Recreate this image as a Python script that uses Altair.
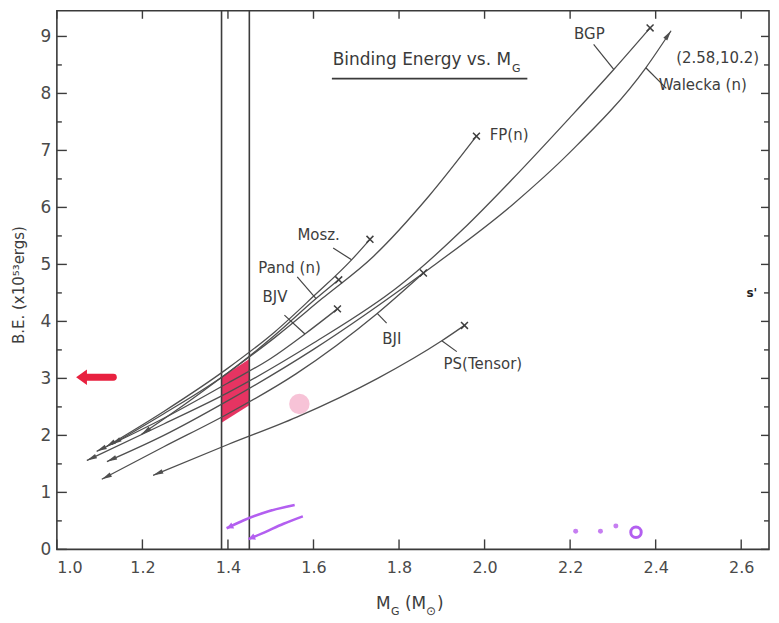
import altair as alt
import pandas as pd
import numpy as np

# ---------------- data ----------------
curve_names = ["Mosz.", "Pand(n)", "FP(n)", "BJV", "BGP", "Walecka(n)", "BJI", "PS(Tensor)"]
mosz_x = [1.115, 1.25, 1.40, 1.51, 1.60, 1.689, 1.732]
mosz_y = [1.80, 2.42, 3.18, 3.82, 4.44, 5.08, 5.44]
pand_x = [1.128, 1.25, 1.40, 1.51, 1.606, 1.659]
pand_y = [1.84, 2.38, 3.10, 3.76, 4.40, 4.73]
fp_x = [1.198, 1.30, 1.40, 1.51, 1.62, 1.74, 1.87, 1.981]
fp_y = [2.02, 2.55, 3.10, 3.72, 4.40, 5.14, 6.20, 7.25]
bjv_x = [1.093, 1.25, 1.40, 1.50, 1.580, 1.656]
bjv_y = [1.72, 2.30, 2.92, 3.35, 3.78, 4.22]
bgp_x = [1.070, 1.25, 1.40, 1.60, 1.80, 1.95, 2.063, 2.20, 2.302, 2.387]
bgp_y = [1.56, 2.20, 2.75, 3.62, 4.62, 5.62, 6.48, 7.58, 8.42, 9.15]
walecka_x = [1.117, 1.25, 1.40, 1.60, 1.857, 2.064, 2.20, 2.377, 2.436]
walecka_y = [1.54, 2.00, 2.61, 3.51, 4.85, 6.04, 6.97, 8.45, 9.10]
bji_x = [1.105, 1.25, 1.40, 1.559, 1.749, 1.857]
bji_y = [1.23, 1.80, 2.38, 3.08, 4.14, 4.85]
ps_x = [1.225, 1.40, 1.561, 1.75, 1.90, 1.953]
ps_y = [1.30, 1.84, 2.32, 3.00, 3.66, 3.93]
curve_xs = [mosz_x, pand_x, fp_x, bjv_x, bgp_x, walecka_x, bji_x, ps_x]
curve_ys = [mosz_y, pand_y, fp_y, bjv_y, bgp_y, walecka_y, bji_y, ps_y]
curve_end = ["x", "x", "x", "x", "x", "arrow", "x", "x"]

# curve labels and their pointer lines
label_text = ["BGP", "(2.58,10.2)", "Walecka (n)", "FP(n)", "Mosz.", "Pand (n)", "BJ\u2164", "BJ\u2160", "PS(Tensor)"]
label_x = [2.245, 2.545, 2.510, 2.012, 1.612, 1.544, 1.510, 1.783, 1.996]
label_y = [9.05, 8.62, 8.15, 7.27, 5.52, 4.93, 4.42, 3.69, 3.25]
label_align = ["center", "center", "center", "left", "center", "center", "center", "center", "center"]
ptr_x1 = [2.255, 2.425, 1.646, 1.562, 1.532, 1.771, 1.935]
ptr_y1 = [8.86, 8.09, 5.29, 4.78, 4.11, 3.97, 3.47]
ptr_x2 = [2.302, 2.377, 1.689, 1.606, 1.580, 1.749, 1.900]
ptr_y2 = [8.42, 8.45, 5.08, 4.40, 3.78, 4.14, 3.66]

# vertical band lines and highlighted region
band_x = [1.385, 1.45]
red_x = [1.385, 1.45]
red_lo = [2.22, 2.53]
red_hi = [3.02, 3.34]

# title
title_main = "Binding Energy vs. M"
title_sub = "G"

# axis ticks
x_ticks = [1.0, 1.2, 1.4, 1.6, 1.8, 2.0, 2.2, 2.4, 2.6]
y_ticks = [0, 1, 2, 3, 4, 5, 6, 7, 8, 9]
y_minor = [0.5, 1.5, 2.5, 3.5, 4.5, 5.5, 6.5, 7.5, 8.5]

# hand annotations on the scan
red_arrow_x = [1.045, 1.132]
red_arrow_y = [3.02, 3.02]
pink_x = [1.567]
pink_y = [2.55]
purple1_x = [1.556, 1.495, 1.437, 1.397]
purple1_y = [0.78, 0.67, 0.51, 0.37]
purple2_x = [1.575, 1.53, 1.48, 1.448]
purple2_y = [0.58, 0.45, 0.28, 0.18]
purple_dot_x = [2.213, 2.271, 2.307]
purple_dot_y = [0.32, 0.32, 0.41]
purple_ring_x = [2.354]
purple_ring_y = [0.30]

# ---------------- layout ----------------
W, H = 714, 540
XDOM = [1.0, 2.665]
YDOM = [0.0, 9.45]
PX = W / (XDOM[1] - XDOM[0])
PY = H / (YDOM[1] - YDOM[0])
FONT = "DejaVu Sans"
INK = "#4a4a4a"

xs = alt.Scale(domain=XDOM, nice=False, zero=False)
ys = alt.Scale(domain=YDOM, nice=False, zero=False)
x_axis = alt.Axis(values=x_ticks, format=".1f", title=None, labelPadding=10,
                  labelFontSize=16, labelColor=INK, labelFont=FONT)
y_axis = alt.Axis(values=y_ticks, format="d", title=None, labelPadding=6,
                  labelFontSize=17, labelColor=INK, labelFont=FONT)


def X(f="x"):
    return alt.X(f"{f}:Q", scale=xs, axis=x_axis)


def Y(f="y"):
    return alt.Y(f"{f}:Q", scale=ys, axis=y_axis)


def head_angle(xa, ya, xb, yb):
    dx = (xa - xb) * PX
    dy = -(ya - yb) * PY
    return float(np.degrees(np.arctan2(dx, -dy)) % 360)


rows, starts, ends_x, heads_end = [], [], [], []
for name, cx, cy, e in zip(curve_names, curve_xs, curve_ys, curve_end):
    for i, (a, b) in enumerate(zip(cx, cy)):
        rows.append({"model": name, "x": a, "y": b, "o": i})
    starts.append({"x": cx[0], "y": cy[0], "ang": head_angle(cx[0], cy[0], cx[1], cy[1])})
    if e == "x":
        ends_x.append({"x": cx[-1], "y": cy[-1]})
    else:
        heads_end.append({"x": cx[-1], "y": cy[-1], "ang": head_angle(cx[-1], cy[-1], cx[-2], cy[-2])})

curves_df = pd.DataFrame(rows)
ARROW = "M0,0L0.42,1.8L-0.42,1.8Z"
CROSS = "M-1,-1L1,1M-1,1L1,-1"
LINE_C = "#4f4f4f"

red_df = pd.DataFrame({"x": red_x, "y": red_lo, "y2": red_hi})
red_area = alt.Chart(red_df).mark_area(color="#e3184c", opacity=0.88).encode(
    x=X(), y=Y(), y2="y2:Q")
pink = alt.Chart(pd.DataFrame({"x": pink_x, "y": pink_y})).mark_point(
    filled=True, color="#f6bcd3", size=420, opacity=0.9).encode(x=X(), y=Y())

band = alt.Chart(pd.DataFrame({"x": band_x})).mark_rule(
    color="#3c3c3c", strokeWidth=1.6).encode(x=X())

lines = alt.Chart(curves_df).mark_line(
    color=LINE_C, strokeWidth=1.3, interpolate="monotone").encode(
    x=X(), y=Y(), detail="model:N", order="o:Q")

start_heads = alt.Chart(pd.DataFrame(starts)).mark_point(
    shape=ARROW, filled=True, color=LINE_C, size=130, opacity=1).encode(
    x=X(), y=Y(), angle=alt.Angle("ang:Q", scale=None))
end_heads = alt.Chart(pd.DataFrame(heads_end)).mark_point(
    shape=ARROW, filled=True, color=LINE_C, size=130, opacity=1).encode(
    x=X(), y=Y(), angle=alt.Angle("ang:Q", scale=None))
crosses = alt.Chart(pd.DataFrame(ends_x)).mark_point(
    shape=CROSS, filled=False, color="#3f3f3f", size=48, strokeWidth=1.5, opacity=1).encode(
    x=X(), y=Y())

labels_df = pd.DataFrame({"x": label_x, "y": label_y, "t": label_text, "al": label_align})
lab_layers = []
for al in ["left", "center"]:
    lab_layers.append(alt.Chart(labels_df[labels_df["al"] == al]).mark_text(
        align=al, baseline="middle", font=FONT, fontSize=15, color="#3d3d3d").encode(
        x=X(), y=Y(), text="t:N"))

ptr_df = pd.DataFrame({"x": ptr_x1, "y": ptr_y1, "x2": ptr_x2, "y2": ptr_y2})
pointers = alt.Chart(ptr_df).mark_rule(color="#444444", strokeWidth=1.2).encode(
    x=X(), y=Y(), x2="x2:Q", y2="y2:Q")

# title with underline
title_df = pd.DataFrame({"x": [1.645], "y": [8.50], "t": [title_main]})
title_t = alt.Chart(title_df).mark_text(
    align="left", baseline="alphabetic", font=FONT, fontSize=17, color="#3a3a3a").encode(
    x=X(), y=Y(), text="t:N")
title_s = alt.Chart(pd.DataFrame({"x": [2.064], "y": [8.37], "t": [title_sub]})).mark_text(
    align="left", baseline="alphabetic", font=FONT, fontSize=11, color="#3a3a3a").encode(
    x=X(), y=Y(), text="t:N")
underline = alt.Chart(pd.DataFrame({"x": [1.643], "x2": [2.100], "y": [8.26]})).mark_rule(
    color="#3a3a3a", strokeWidth=1.6).encode(x=X(), x2="x2:Q", y=Y())

# red hand-drawn arrow
red_line = alt.Chart(pd.DataFrame({"x": [red_arrow_x[0] + 0.02], "x2": [red_arrow_x[1]],
                                   "y": [red_arrow_y[0]]})).mark_rule(
    color="#e8213f", strokeWidth=7, strokeCap="round").encode(x=X(), x2="x2:Q", y=Y())
red_head = alt.Chart(pd.DataFrame({"x": [red_arrow_x[0]], "y": [red_arrow_y[0]]})).mark_point(
    shape="M0,0L1,1.4L-1,1.4Z", filled=True, color="#e8213f", size=240, angle=270, opacity=1).encode(
    x=X(), y=Y())

# purple scribbles
p_rows = [{"g": 1, "x": a, "y": b, "o": i} for i, (a, b) in enumerate(zip(purple1_x, purple1_y))]
p_rows += [{"g": 2, "x": a, "y": b, "o": i} for i, (a, b) in enumerate(zip(purple2_x, purple2_y))]
purple_lines = alt.Chart(pd.DataFrame(p_rows)).mark_line(
    color="#b35ff0", strokeWidth=2.6, interpolate="monotone").encode(
    x=X(), y=Y(), detail="g:N", order="o:Q")
ph = [{"x": purple1_x[-1], "y": purple1_y[-1],
       "ang": head_angle(purple1_x[-1], purple1_y[-1], purple1_x[-2], purple1_y[-2])},
      {"x": purple2_x[-1], "y": purple2_y[-1],
       "ang": head_angle(purple2_x[-1], purple2_y[-1], purple2_x[-2], purple2_y[-2])}]
purple_heads = alt.Chart(pd.DataFrame(ph)).mark_point(
    shape="M0,0L0.8,1.6L-0.8,1.6Z", filled=True, color="#b35ff0", size=70, opacity=1).encode(
    x=X(), y=Y(), angle=alt.Angle("ang:Q", scale=None))
purple_dots = alt.Chart(pd.DataFrame({"x": purple_dot_x, "y": purple_dot_y})).mark_point(
    filled=True, color="#c070f0", size=25, opacity=0.9).encode(x=X(), y=Y())
purple_ring = alt.Chart(pd.DataFrame({"x": purple_ring_x, "y": purple_ring_y})).mark_point(
    filled=False, color="#b35ff0", size=110, strokeWidth=3, opacity=1).encode(x=X(), y=Y())

# inward ticks (drawn as rules)
ytk = pd.DataFrame({"y": y_ticks})
ymn = pd.DataFrame({"y": y_minor})
xtk = pd.DataFrame({"x": x_ticks})
TK = "#3c3c3c"
tick_layers = [
    alt.Chart(ytk).mark_rule(color=TK, strokeWidth=1.4).encode(y=Y(), x=alt.value(0), x2=alt.value(10)),
    alt.Chart(ymn).mark_rule(color=TK, strokeWidth=1.4).encode(y=Y(), x=alt.value(0), x2=alt.value(5)),
    alt.Chart(ytk).mark_rule(color=TK, strokeWidth=1.4).encode(y=Y(), x=alt.value(W - 8), x2=alt.value(W)),
    alt.Chart(ymn).mark_rule(color=TK, strokeWidth=1.4).encode(y=Y(), x=alt.value(W - 5), x2=alt.value(W)),
    alt.Chart(xtk).mark_rule(color=TK, strokeWidth=1.4).encode(x=X(), y=alt.value(H), y2=alt.value(H - 10)),
    alt.Chart(xtk).mark_rule(color=TK, strokeWidth=1.4).encode(x=X(), y=alt.value(0), y2=alt.value(8)),
]

# axis titles (with subscripts / superscript)
def ptext(t, px, py, size, angle=0, align="left", baseline="alphabetic"):
    return alt.Chart(pd.DataFrame({"t": [t]})).mark_text(
        align=align, baseline=baseline, font=FONT, fontSize=size, color="#3d3d3d", angle=angle).encode(
        x=alt.value(px), y=alt.value(py), text="t:N")

axis_titles = [
    ptext("M", 320, 600, 17),
    ptext("G", 335, 606, 11),
    ptext("(M", 349, 600, 17),
    ptext("\u2299", 370, 606, 12),
    ptext(")", 381, 600, 17),
    ptext("B.E. (x10\u2075\u00b3ergs)", -38, 275, 15, angle=270, align="center", baseline="middle"),
]

stray = alt.Chart(pd.DataFrame({"x": [2.625], "y": [4.50], "t": ["s'"]})).mark_text(
    font=FONT, fontSize=12, color="#222222", fontWeight="bold").encode(x=X(), y=Y(), text="t:N")

chart = alt.layer(
    red_area, pink, band, lines, start_heads, end_heads, crosses, pointers,
    *lab_layers, title_t, title_s, underline, red_line, red_head,
    purple_lines, purple_heads, purple_dots, purple_ring, *tick_layers, *axis_titles, stray,
).properties(
    width=W, height=H,
    autosize=alt.AutoSizeParams(type="none"),
    padding={"left": 49, "top": 2, "right": 2, "bottom": 70},
    background="white",
).configure_view(
    stroke="#3a3a3a", strokeWidth=1.6
).configure_axis(
    domain=False, ticks=False, grid=False
)

chart.save("out.html", embed_options={"renderer": "svg", "actions": False})
